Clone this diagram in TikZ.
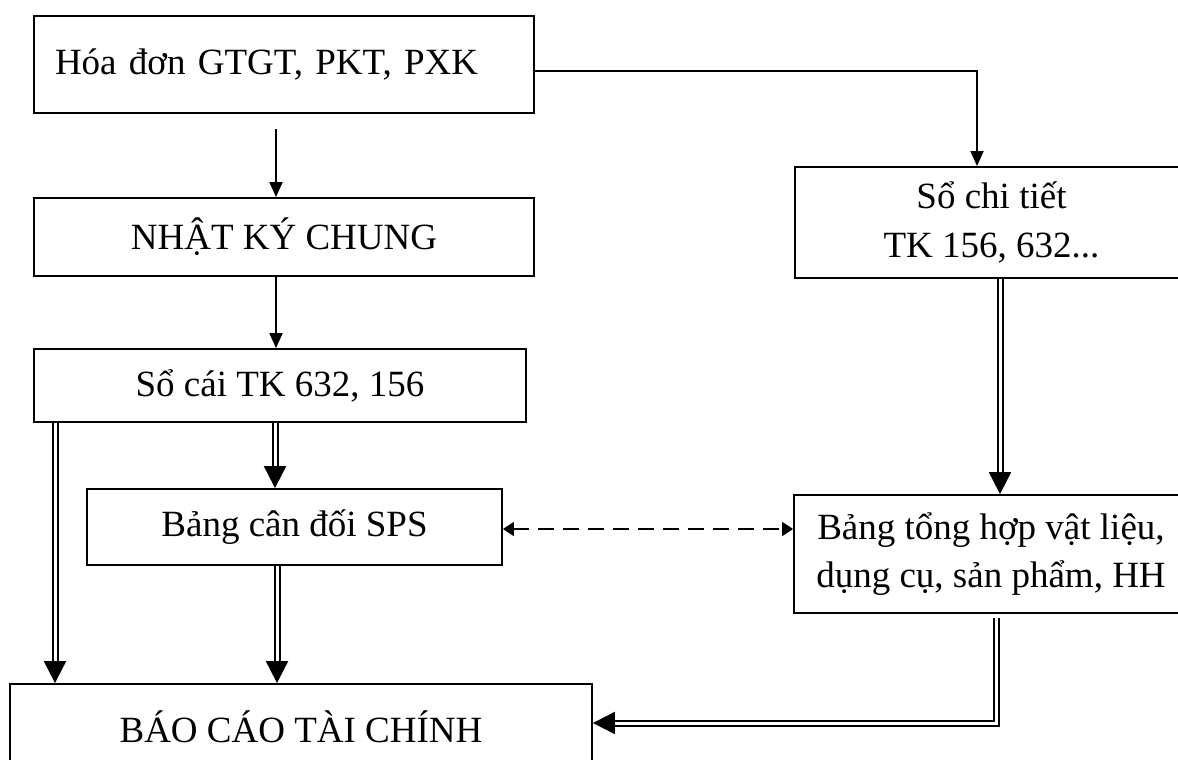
\documentclass[tikz,border=0pt]{standalone}
\usepackage{fontspec}
\setmainfont{Liberation Serif}
\usetikzlibrary{arrows.meta}
\begin{document}
\begin{tikzpicture}[x=1pt,y=-1pt,
  box/.style={draw, line width=1.8pt, inner sep=0pt, align=center,
    font=\fontsize{37}{48.5}\selectfont},
  single/.style={line width=1.8pt, -{Triangle[length=15pt,width=13pt]}},
  dbl/.style={double, double distance=3pt, line width=2pt,
    -{Triangle[length=22pt,width=22pt]}},
  link/.style={line width=1.8pt, dash pattern=on 16pt off 9pt,
    {Triangle[length=11pt,width=14pt]}-{Triangle[length=11pt,width=14pt]}}]
\clip (0,0) rectangle (1178,760);

% boxes
\node[box, minimum width=500pt, minimum height=97pt, text width=458pt,
      inner xsep=21pt, align=left] (hoadon) at (284,64.5) {Hóa đơn GTGT, PKT, PXK};
\node[box, minimum width=500pt, minimum height=78pt] (nkc) at (284,237) {NHẬT KÝ CHUNG};
\node[box, minimum width=492pt, minimum height=73pt] (socai) at (280,385.5) {Sổ cái TK 632, 156};
\node[box, minimum width=415pt, minimum height=76pt] (cdsps) at (294.5,527) {Bảng cân đối SPS};
\node[box, minimum width=582pt, minimum height=86pt] (bctc) at (301,727) {BÁO CÁO TÀI CHÍNH};
\node[box, minimum width=393pt, minimum height=111pt] (sct) at (991.5,222.5) {Sổ chi tiết\\TK 156, 632...};
\node[box, minimum width=394pt, minimum height=118pt] (bth) at (991,554) {Bảng tổng hợp vật liệu,\\dụng cụ, sản phẩm, HH};

% guide coordinates for connector positions
\coordinate (xa) at (276,0);
\coordinate (xb) at (55,0);
\coordinate (xc) at (275,0);
\coordinate (xd) at (277,0);
\coordinate (xe) at (977,0);
\coordinate (xf) at (1000,0);
\coordinate (xg) at (996,0);
\coordinate (ya) at (0,71);
\coordinate (yb) at (0,529);
\coordinate (yc) at (0,723);

% single connectors
\draw[single, shorten <=15pt] (hoadon.south -| xa) -- (nkc.north -| xa);
\draw[single] (nkc.south -| xa) -- (socai.north -| xa);
\draw[single] (hoadon.east |- ya) -| (sct.north -| xe);

% double connectors
\draw[dbl] (socai.south -| xc) -- (cdsps.north -| xc);
\draw[dbl] (socai.south -| xb) -- (bctc.north -| xb);
\draw[dbl] (cdsps.south -| xd) -- (bctc.north -| xd);
\draw[dbl] (sct.south -| xf) -- (bth.north -| xf);
\draw[dbl, shorten <=4pt] (bth.south -| xg) |- (bctc.east |- yc);

% dashed two-way link
\draw[link] (cdsps.east |- yb) -- (bth.west |- yb);
\end{tikzpicture}
\end{document}
